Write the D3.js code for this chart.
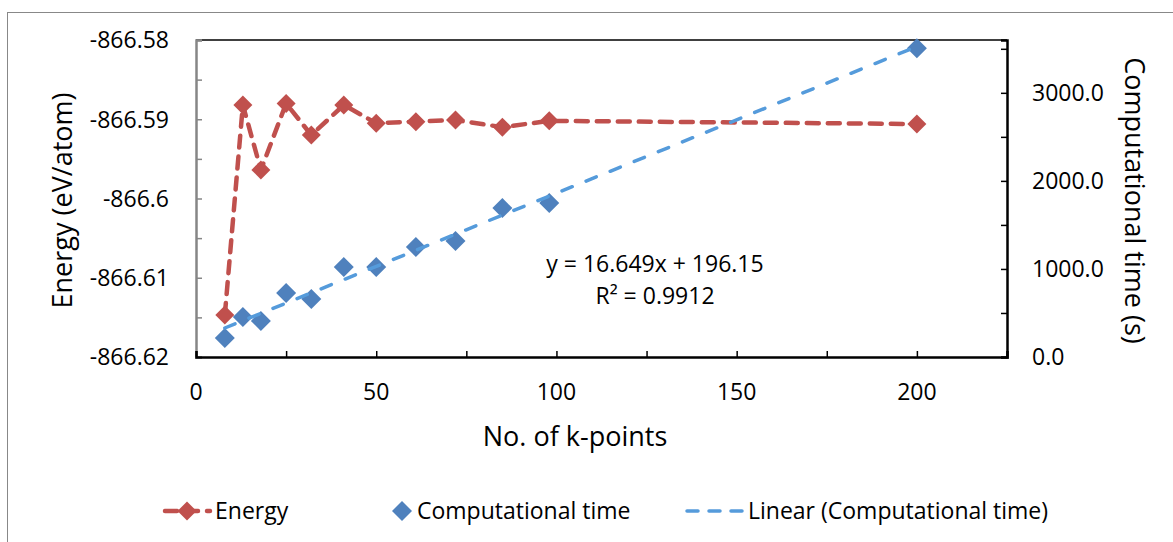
<!DOCTYPE html>
<html><head><meta charset="utf-8">
<script src="https://cdn.jsdelivr.net/npm/d3@7"></script>
<style>body{margin:0;background:#fff}svg{display:block}text{font-family:"Open Sans","Noto Sans",sans-serif;fill:#000}</style>
</head><body><svg id="c" width="1173" height="542"></svg>
<script>
const kpoints = [8,13,18,25,32,41,50,61,72,85,98,200];
const energy = [-866.6147,-866.5882,-866.5964,-866.5880,-866.5920,-866.5882,-866.5905,-866.5903,-866.5901,-866.5910,-866.5902,-866.5906];
const compTime = [216,454,409,726,658,1022,1022,1249,1317,1691,1748,3507];
const xTicks = [0,25,50,75,100,125,150,175,200,225];
const xTickLabels = ["0","50","100","150","200"];
const energyTicks = [-866.62,-866.615,-866.61,-866.605,-866.6,-866.595,-866.59,-866.585,-866.58];
const energyTickLabels = ["-866.62","-866.61","-866.6","-866.59","-866.58"];
const timeTicks = [0,500,1000,1500,2000,2500,3000,3500];
const fitSlope = 16.649, fitIntercept = 196.15;
const fitText = ["y = 16.649x + 196.15","R² = 0.9912"];
const legendLabels = ["Energy","Computational time","Linear (Computational time)"];

const svg = d3.select("#c");
const L=196, R=1007, T=40, B=357;
const x = d3.scaleLinear().domain([0,225]).range([L,R]);
const yL = d3.scaleLinear().domain([-866.62,-866.58]).range([B,T]);
const yR = d3.scaleLinear().domain([0,3600]).range([B,T]);
const red="#C0504D", blue="#4F81BD", tblue="#559BDB";

// outer border
svg.append("rect").attr("x",7.5).attr("y",12.5).attr("width",1200).attr("height",600)
  .attr("fill","none").attr("stroke","#888").attr("stroke-width",1);

// top border of plot
svg.append("line").attr("x1",L).attr("x2",R).attr("y1",T).attr("y2",T).attr("stroke","#000").attr("stroke-width",1.5);

// left axis (gray, inner ticks)
const gl = svg.append("g").attr("transform",`translate(${L},0)`)
  .call(d3.axisRight(yL).tickValues(energyTicks).tickSize(6).tickFormat(""));
gl.select(".domain").attr("stroke","#868686").attr("stroke-width",2.5);
gl.selectAll(".tick line").attr("stroke","#868686").attr("stroke-width",1.5);
svg.append("g").selectAll("text").data(energyTickLabels).join("text")
  .attr("x",169).attr("y",d=>yL(+d)).attr("dy","0.36em").attr("text-anchor","end")
  .attr("font-size",23).text(d=>d);

// right axis
const gr = svg.append("g").attr("transform",`translate(${R},0)`)
  .call(d3.axisLeft(yR).tickValues(timeTicks).tickSize(6).tickFormat(""));
gr.select(".domain").attr("stroke","#000").attr("stroke-width",2.5);
gr.selectAll(".tick line").attr("stroke","#000").attr("stroke-width",1.5);
svg.append("g").selectAll("text").data(timeTicks.filter(d=>d%1000===0)).join("text")
  .attr("x",1032).attr("y",d=>yR(d)).attr("dy","0.36em").attr("text-anchor","start")
  .attr("font-size",23).text(d=>d3.format(".1f")(d));

// bottom axis
const gb = svg.append("g").attr("transform",`translate(0,${B})`)
  .call(d3.axisTop(x).tickValues(xTicks).tickSize(6).tickFormat(""));
gb.select(".domain").attr("stroke","#000").attr("stroke-width",2.5);
gb.selectAll(".tick line").attr("stroke","#000").attr("stroke-width",1.5);
svg.append("g").selectAll("text").data(xTickLabels).join("text")
  .attr("x",d=>x(+d)).attr("y",392).attr("dy","0.36em").attr("text-anchor","middle")
  .attr("font-size",23).text(d=>d);

// titles
svg.append("text").attr("transform",`translate(62,${(T+B)/2+2}) rotate(-90)`).attr("text-anchor","middle")
  .attr("dy","0.36em").attr("font-size",27).text("Energy (eV/atom)");
svg.append("text").attr("transform",`translate(1135,${(T+B)/2+2}) rotate(90)`).attr("text-anchor","middle")
  .attr("dy","0.36em").attr("font-size",27).text("Computational time (s)");
svg.append("text").attr("x",575).attr("y",436).attr("dy","0.36em").attr("text-anchor","middle")
  .attr("font-size",27).text("No. of k-points");

const diamond = (cx,cy,r)=>`M${cx},${cy-r}L${cx+r},${cy}L${cx},${cy+r}L${cx-r},${cy}Z`;
const eData = kpoints.map((k,i)=>({k,v:energy[i]}));
const tData = kpoints.map((k,i)=>({k,v:compTime[i]}));

// energy line
svg.append("path").datum(eData).attr("fill","none").attr("stroke",red).attr("stroke-width",4.5)
  .attr("stroke-dasharray","12,9").attr("stroke-linecap","round")
  .attr("d",d3.line().x(d=>x(d.k)).y(d=>yL(d.v)));
svg.append("g").selectAll("path").data(eData).join("path")
  .attr("d",d=>diamond(x(d.k),yL(d.v),9.5)).attr("fill",red);

// time markers
svg.append("g").selectAll("path").data(tData).join("path")
  .attr("d",d=>diamond(x(d.k),yR(d.v),10)).attr("fill",blue);

// trendline
const kExt = d3.extent(kpoints);
svg.append("path").datum(kExt).attr("fill","none").attr("stroke",tblue).attr("stroke-width",3.5)
  .attr("stroke-dasharray","11,15").attr("stroke-linecap","round")
  .attr("d",d3.line().x(d=>x(d)).y(d=>yR(fitSlope*d+fitIntercept)));

// fit text
svg.append("g").selectAll("text").data(fitText).join("text")
  .attr("x",655).attr("y",(d,i)=>264+i*32).attr("dy","0.36em").attr("text-anchor","middle")
  .attr("font-size",23).text(d=>d);

// legend
const ly=511;
svg.append("line").attr("x1",165).attr("x2",210).attr("y1",ly).attr("y2",ly).attr("stroke",red)
  .attr("stroke-width",4.5).attr("stroke-dasharray","12,9").attr("stroke-linecap","round");
svg.append("path").attr("d",diamond(187,ly,9.5)).attr("fill",red);
svg.append("text").attr("x",215).attr("y",ly).attr("dy","0.36em").attr("font-size",23).text(legendLabels[0]);
svg.append("path").attr("d",diamond(402,ly,10)).attr("fill",blue);
svg.append("text").attr("x",417).attr("y",ly).attr("dy","0.36em").attr("font-size",23).text(legendLabels[1]);
svg.append("line").attr("x1",687).attr("x2",744).attr("y1",ly).attr("y2",ly).attr("stroke",tblue)
  .attr("stroke-width",3.5).attr("stroke-dasharray","11,11").attr("stroke-linecap","round");
svg.append("text").attr("x",748).attr("y",ly).attr("dy","0.36em").attr("font-size",23).text(legendLabels[2]);
</script></body></html>
